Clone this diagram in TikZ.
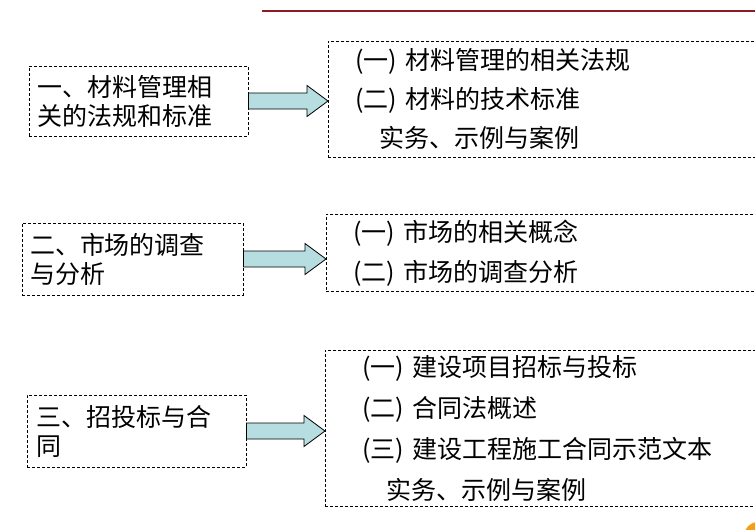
\documentclass[tikz,border=0pt]{standalone}
\usepackage{fontspec}
\setmainfont{Noto Sans CJK SC}
\usepackage{xcolor}
\usetikzlibrary{positioning,calc}
\definecolor{arrowfill}{RGB}{182,221,224}
\definecolor{linered}{RGB}{140,28,34}
\definecolor{logoorange}{RGB}{245,160,20}

\begin{document}
\begin{tikzpicture}[x=1pt, y=-1pt, every node/.style={inner sep=0pt},
  dashbox/.style={draw, line width=0.8pt, dash pattern=on 3pt off 2pt},
  leftbox/.style={dashbox, inner xsep=8pt, minimum height=72pt, text width=203pt, align=left, font=\fontsize{25}{29}\selectfont},
  rightbox/.style={dashbox, anchor=north west, inner xsep=27pt, text width=381pt, align=left, font=\fontsize{25}{40}\selectfont},
  blockarrow/.style={draw=black, line width=0.8pt, fill=arrowfill, line join=miter}]
\path[use as bounding box, clip] (0,0) rectangle (755,530);
\fill[white] (0,0) rectangle (755,530);
% --- title rule and logo corner ---
\draw[linered, line width=2pt] (262,11) -- (755,11);
\fill[logoorange] (758,536) circle (14);
% --- left column ---
\node[leftbox, minimum height=70pt] (l1) at (138.5,101) {一、材料管理相\\关的法规和标准};
\node[leftbox, text width=205pt] (l2) at (132.5,259) {二、市场的调查\\与分析};
\node[leftbox, inner xsep=9pt, text width=201pt] (l3) at (136.5,431) {三、招投标与合\\同};
% --- right column ---
\node[rightbox, minimum height=116pt, font=\fontsize{25}{39}\selectfont] (r1) at (328,41)
  {(一) 材料管理的相关法规\\(二) 材料的技术标准\\\hspace*{24pt}实务、示例与案例};
\node[rightbox, minimum height=77pt] (r2) at (326,214)
  {(一) 市场的相关概念\\(二) 市场的调查分析};
\node[rightbox, minimum height=156pt, inner xsep=37pt, text width=361pt, font=\fontsize{25}{41}\selectfont] (r3) at (325,350)
  {(一) 建设项目招标与投标\\(二) 合同法概述\\(三) 建设工程施工合同示范文本\\\hspace*{24pt}实务、示例与案例};
% --- block arrows ---
\foreach \a/\b in {l1/r1,l2/r2,l3/r3}
  \draw[blockarrow] let \p1=(\a.east), \p2=(\b.west) in
    ({\x1},{\y1+8pt}) -- ({\x2-21pt},{\y1+8pt}) -- ({\x2-21pt},{\y1+15.5pt}) -- ({\x2},{\y1})
    -- ({\x2-21pt},{\y1-15.5pt}) -- ({\x2-21pt},{\y1-8pt}) -- ({\x1},{\y1-8pt}) -- cycle;
\end{tikzpicture}
\end{document}
